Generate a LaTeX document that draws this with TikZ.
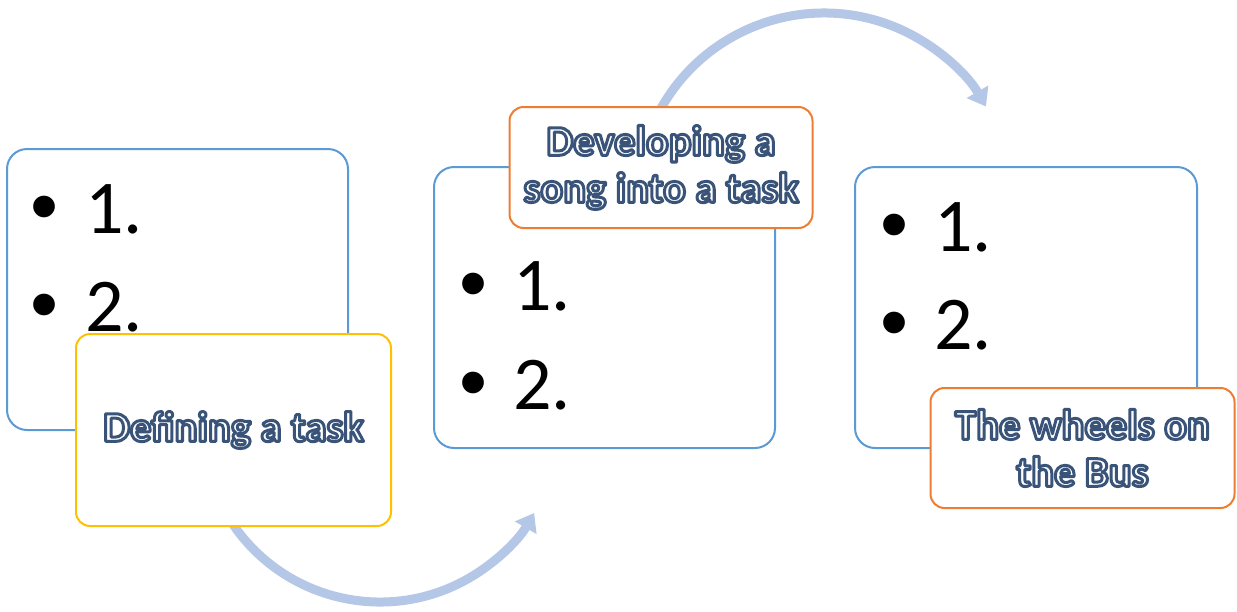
\documentclass[tikz,border=0pt]{standalone}
\usepackage{fontspec}
\setmainfont{Carlito}
\newfontfamily\bulletfont{Liberation Sans}
\usetikzlibrary{arrows.meta}

\definecolor{boxblue}{HTML}{5B9BD5}
\definecolor{boxyellow}{HTML}{FFC000}
\definecolor{boxorange}{HTML}{ED7D31}
\definecolor{arcblue}{HTML}{B4C7E7}

% caption text: white letters stroked in dark blue (PDF text render mode 2)
\newcommand\outlined[1]{%
  {\special{pdf:literal direct 2 Tr 3 w 1 j 0.227 0.329 0.475 RG 1 1 1 rg}%
   #1%
   \special{pdf:literal direct 0 Tr 0 g 0 G}}}

\tikzset{
  listbox/.style={draw=boxblue, line width=2pt, fill=white, rounded corners=20pt, inner sep=0pt},
  capbox/.style={line width=2pt, fill=white, rounded corners=14pt, inner sep=0pt,
    align=center, font=\bfseries\fontsize{42.5}{47}\selectfont},
  bulletmark/.style={anchor=base west, inner sep=0pt, font=\bulletfont\fontsize{80}{80}\selectfont},
  itemnum/.style={anchor=base west, inner sep=0pt, font=\fontsize{76}{80}\selectfont},
  flow/.style={draw=arcblue, line width=9pt, -{Triangle[width=24pt,length=17pt]}}
}

\begin{document}
\begin{tikzpicture}[x=1pt,y=-1pt]
\useasboundingbox (0,0) rectangle (1237,611);

% curved flow arrows (drawn first so the caption boxes cover their tails)
\coordinate (lowc) at (380,424);
\coordinate (topc) at (824,200);
\draw[flow] ([shift={(210:178pt)}]lowc) arc[start angle=210, end angle=330, radius=178pt];
\draw[flow] ([shift={(153:187pt)}]topc) arc[start angle=153, end angle=30, radius=187pt];

% first panel
\node[listbox, minimum width=341pt, minimum height=281pt] (A) at (177.5,289.5) {};
\node[bulletmark] (A1b) at (30,233) {•};
\node[itemnum] (A1) at (85,233) {1.};
\node[bulletmark] (A2b) at (30,331) {•};
\node[itemnum] (A2) at (85,331) {2.};
\node[capbox, draw=boxyellow, minimum width=315pt, minimum height=192pt] (B) at (233.5,430) {\outlined{Defining a task}};

% second panel
\node[listbox, minimum width=341pt, minimum height=281pt] (C) at (604.5,307.5) {};
\node[bulletmark] (C1b) at (459,310) {•};
\node[itemnum] (C1) at (513,310) {1.};
\node[bulletmark] (C2b) at (459,409) {•};
\node[itemnum] (C2) at (513,409) {2.};
\node[capbox, draw=boxorange, minimum width=303pt, minimum height=121pt] (D) at (661,167.5) {\outlined{Developing a}\\\outlined{song into a task}};

% third panel
\node[listbox, minimum width=342pt, minimum height=281pt] (E) at (1026,307.5) {};
\node[bulletmark] (E1b) at (880,251) {•};
\node[itemnum] (E1) at (934,251) {1.};
\node[bulletmark] (E2b) at (880,349) {•};
\node[itemnum] (E2) at (934,349) {2.};
\node[capbox, draw=boxorange, minimum width=304pt, minimum height=120pt] (F) at (1082.5,448) {\outlined{The wheels on}\\\outlined{the Bus}};
\end{tikzpicture}
\end{document}
